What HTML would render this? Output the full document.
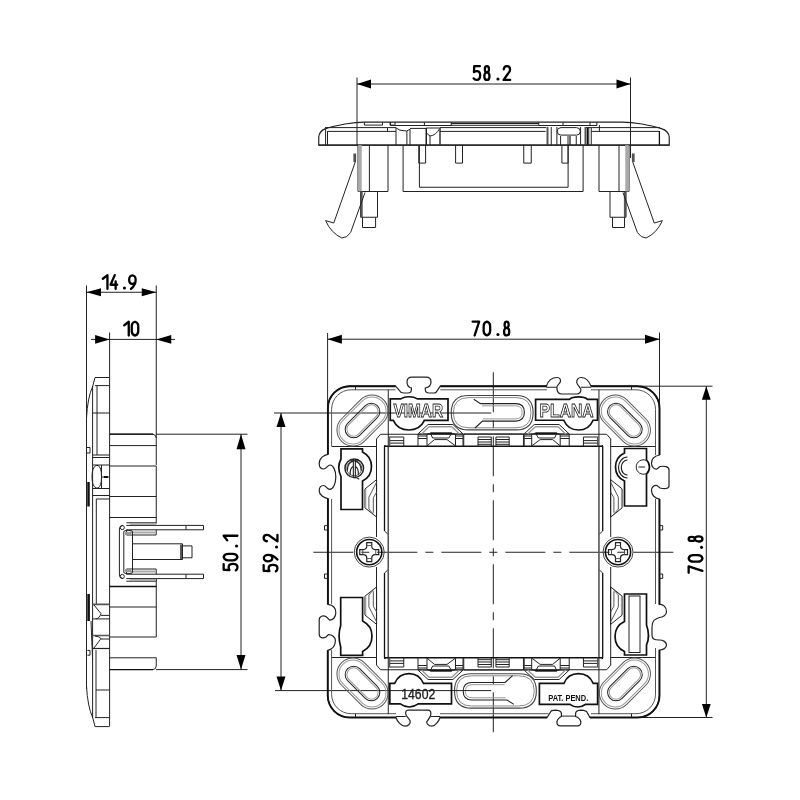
<!DOCTYPE html>
<html><head><meta charset="utf-8"><style>
html,body{margin:0;padding:0;background:#fff;width:800px;height:800px;overflow:hidden}
svg{display:block;will-change:transform}
.l{fill:none;stroke:#222;stroke-width:1}
.b{fill:none;stroke:#111;stroke-width:1.7}
.g{fill:none;stroke:#999;stroke-width:1}
.m{fill:none;stroke:#555;stroke-width:1}
.c{fill:none;stroke:#222;stroke-width:1;stroke-dasharray:40 8 8 8}
.a{fill:#000;stroke:none}
.d{font-family:"Liberation Sans",sans-serif;fill:#000}
</style></head><body>
<svg width="800" height="800" viewBox="0 0 800 800">
<g class="l">
<path d="M357 77.5V146M630.5 77.5V158M357 84H630.5"/>
<path d="M86.5 285.5V418M156.25 285.5V465M86.5 292.25H156.25"/>
<path d="M109.6 332.5V726M91 339.4H175"/>
<path d="M156 434.2H247.5M156 669.6H247.5M241 434.2V669.6"/>
<path d="M274 413H390M275 690.6H390M281 413V690.6"/>
<path d="M327.6 333V408M659.5 332.5V408M327.6 339.2H659.5"/>
<path d="M640 386.2H712.5M640 717.5H712.5M706.3 386.2V717.5"/>
</g>
<polygon class="a" points="357.00,84.00 371.00,79.50 371.00,88.50"/>
<polygon class="a" points="630.50,84.00 616.50,79.50 616.50,88.50"/>
<polygon class="a" points="86.50,292.25 101.00,288.25 101.00,296.25"/>
<polygon class="a" points="156.25,292.25 141.75,288.25 141.75,296.25"/>
<polygon class="a" points="109.60,339.40 95.10,335.10 95.10,343.70"/>
<polygon class="a" points="156.25,339.40 171.25,335.10 171.25,343.70"/>
<polygon class="a" points="241.00,434.20 236.50,449.20 245.50,449.20"/>
<polygon class="a" points="241.00,669.60 236.50,655.10 245.50,655.10"/>
<polygon class="a" points="281.00,413.00 276.50,427.00 285.50,427.00"/>
<polygon class="a" points="281.00,690.60 276.50,676.60 285.50,676.60"/>
<polygon class="a" points="327.60,339.20 341.90,334.70 341.90,343.70"/>
<polygon class="a" points="659.50,339.20 645.00,334.70 645.00,343.70"/>
<polygon class="a" points="706.30,386.20 701.90,399.80 710.70,399.80"/>
<polygon class="a" points="706.30,717.50 701.90,704.10 710.70,704.10"/>
<g transform="translate(473.65 66.15)" fill="none" stroke="#000" stroke-width="2.30" stroke-linecap="round" stroke-linejoin="round"><path transform="translate(0.00 0)" d="M6.2 0H0.6L0.3 5.9Q1.3 5 3.2 5Q6.5 5 6.5 9.2Q6.5 13.8 3.2 13.8Q1 13.8 0 12.2"/><path transform="translate(10.00 0)" d="M3.25 6.2C0.5 6.2 0.5 0 3.25 0C6 0 6 6.2 3.25 6.2C-0.2 6.2 -0.2 13.8 3.25 13.8C6.7 13.8 6.7 6.2 3.25 6.2Z"/><circle cx="24.30" cy="12.9" r="1.55" fill="#000" stroke="none"/><path transform="translate(30.00 0)" d="M0.1 3.3Q0.4 0 3.25 0Q6.4 0 6.4 3.4Q6.4 5.6 4.3 7.6L0 13.8H6.5"/></g>
<g transform="translate(102.85 275.15)" fill="none" stroke="#000" stroke-width="2.30" stroke-linecap="round" stroke-linejoin="round"><path transform="translate(0.00 0)" d="M0 3.6L4.6 0V13.8"/><path transform="translate(7.30 0)" d="M4.6 0L0.4 9.6H7M5.5 6.2V13.8"/><circle cx="21.60" cy="12.9" r="1.55" fill="#000" stroke="none"/><path transform="translate(26.30 0)" d="M6.5 4.6C6.5 -1.3 0 -1.3 0 4.6C0 10 6.5 10 6.5 4.6Q6.5 10 1.8 13.8"/></g>
<g transform="translate(124.15 321.75)" fill="none" stroke="#000" stroke-width="2.30" stroke-linecap="round" stroke-linejoin="round"><path transform="translate(0.00 0)" d="M0 3.6L4.6 0V13.8"/><path transform="translate(7.60 0)" d="M3.25 0Q6.5 0.7 6.5 4.6V9.2Q6.5 13.1 3.25 13.8Q0 13.1 0 9.2V4.6Q0 0.7 3.25 0Z"/></g>
<g transform="translate(223.65 570.35) rotate(-90)" fill="none" stroke="#000" stroke-width="2.30" stroke-linecap="round" stroke-linejoin="round"><path transform="translate(0.00 0)" d="M6.2 0H0.6L0.3 5.9Q1.3 5 3.2 5Q6.5 5 6.5 9.2Q6.5 13.8 3.2 13.8Q1 13.8 0 12.2"/><path transform="translate(10.00 0)" d="M3.25 0Q6.5 0.7 6.5 4.6V9.2Q6.5 13.1 3.25 13.8Q0 13.1 0 9.2V4.6Q0 0.7 3.25 0Z"/><circle cx="24.30" cy="12.9" r="1.55" fill="#000" stroke="none"/><path transform="translate(30.00 0)" d="M0 3.6L4.6 0V13.8"/></g>
<g transform="translate(263.65 571.35) rotate(-90)" fill="none" stroke="#000" stroke-width="2.30" stroke-linecap="round" stroke-linejoin="round"><path transform="translate(0.00 0)" d="M6.2 0H0.6L0.3 5.9Q1.3 5 3.2 5Q6.5 5 6.5 9.2Q6.5 13.8 3.2 13.8Q1 13.8 0 12.2"/><path transform="translate(10.00 0)" d="M6.5 4.6C6.5 -1.3 0 -1.3 0 4.6C0 10 6.5 10 6.5 4.6Q6.5 10 1.8 13.8"/><circle cx="24.30" cy="12.9" r="1.55" fill="#000" stroke="none"/><path transform="translate(30.00 0)" d="M0.1 3.3Q0.4 0 3.25 0Q6.4 0 6.4 3.4Q6.4 5.6 4.3 7.6L0 13.8H6.5"/></g>
<g transform="translate(472.65 321.65)" fill="none" stroke="#000" stroke-width="2.30" stroke-linecap="round" stroke-linejoin="round"><path transform="translate(0.00 0)" d="M0 0H6.5L2 13.8"/><path transform="translate(11.00 0)" d="M3.25 0Q6.5 0.7 6.5 4.6V9.2Q6.5 13.1 3.25 13.8Q0 13.1 0 9.2V4.6Q0 0.7 3.25 0Z"/><circle cx="25.30" cy="12.9" r="1.55" fill="#000" stroke="none"/><path transform="translate(30.75 0)" d="M3.25 6.2C0.5 6.2 0.5 0 3.25 0C6 0 6 6.2 3.25 6.2C-0.2 6.2 -0.2 13.8 3.25 13.8C6.7 13.8 6.7 6.2 3.25 6.2Z"/></g>
<g transform="translate(688.65 572.85) rotate(-90)" fill="none" stroke="#000" stroke-width="2.30" stroke-linecap="round" stroke-linejoin="round"><path transform="translate(0.00 0)" d="M0 0H6.5L2 13.8"/><path transform="translate(11.20 0)" d="M3.25 0Q6.5 0.7 6.5 4.6V9.2Q6.5 13.1 3.25 13.8Q0 13.1 0 9.2V4.6Q0 0.7 3.25 0Z"/><circle cx="25.50" cy="12.9" r="1.55" fill="#000" stroke="none"/><path transform="translate(30.70 0)" d="M3.25 6.2C0.5 6.2 0.5 0 3.25 0C6 0 6 6.2 3.25 6.2C-0.2 6.2 -0.2 13.8 3.25 13.8C6.7 13.8 6.7 6.2 3.25 6.2Z"/></g>
<path class="c" d="M493.3 370V733" style="stroke-dashoffset:61.7"/><path class="c" d="M312 552.25H675" style="stroke-dashoffset:62.7"/>
<path class="l" d="M349.75 386.2 H395.6 L401 392.3 Q402 393 404 393 H408 Q411.4 393 411.4 389.5 V388 Q407 387 407 382 Q407 377.1 412 377.1 H426 Q431 377.1 431 382 Q431 387 425.3 388 V389.5 Q425.3 393 429 393 H434 Q435.5 393 436 392.3 L440.3 386.2 H546.4 C548 381 552 377.5 557.25 377.5 C560 377.5 561 380 560.25 382 C559.5 384 556.9 385 556.9 387.5 C556.9 390 557.5 394 561.75 394 H576.75 C580 394 581 391 580.9 389.5 C580.8 387.5 577 385 576.75 382.5 C576.5 379.5 578.5 377.5 581 377.5 C585 377.5 589 381 591 386.2 H637.5 A22 22 0 0 1 659.5 408.2 V455 C655 456 651.5 459 651.5 463 C651.5 467 654 469.5 657 469 L660 466.5 C664 466 669 466 669 470 V486 C669 489 664 489 660 488 L657 485.5 C654 485 651.5 487 651.5 490.5 C651.5 495 655 498.5 659.4 499 V604.5 C663 604 666.5 607 666.5 611.5 C666.5 615 663 617.5 659.4 617.5 L656 619 C653 620 652 624 652 628 V635 C652 639 654 640 659.4 640 C663 640 666.5 642 666.5 645 C666.5 648 663 650 659.4 650 V695.5 A22 22 0 0 1 637.5 717.5 H589.9 L586.5 711.5 Q584 710.1 580.5 710.1 Q575.6 710.5 575.6 713.5 V716.5 Q579.5 717.5 580.9 721.75 Q580.9 725.9 577.5 725.9 H560.25 Q556.9 725.9 556.9 721.75 Q558.3 717.5 561.4 716.5 V713.5 Q561.4 710.5 556 710.1 Q553 710.1 551.25 710.9 L547.1 717.5 H440 C439 721 435 726.2 432 726.2 C428 726.2 426.5 723 426.8 721.7 C428.5 719 430.9 717 430.9 714 C430.9 712 430 710.1 428 710.1 H408 C406 710.1 405.5 712 405.75 714 C406 717 410.25 719 410.25 721.7 C410.25 724 408 726.2 405 726.2 C401 726.2 397 721 396 717.5 H349.75 A22 22 0 0 1 327.75 695.5 V650.4 C333 649 335.4 645 335.4 640.5 C335.4 637 332 634.5 328.4 634.6 L326 637 C323 638.5 319.2 638 319.2 634 V620 C319.2 616 323 615 326.6 617 L329.7 620.2 C333 620 335.8 617 335.8 612.75 C335.8 608 333 605 328 604.4 V498.6 C324 498 319.2 495 319.2 491 C319.2 487.5 321 485.5 323.5 485.5 C326 485.5 327 489.4 329.7 489.4 C333 489.4 335.8 484 335.8 477 C335.8 470 333 465 330 465 C327.5 465 326.5 469 323.5 469 C321 469 319.2 467 319.2 463.6 C319.2 458 324 455 327.9 454.4 V408.2 A22 22 0 0 1 349.75 386.2 Z" style="stroke-width:1.2;stroke:#222"/>
<path class="b" d="M349.75 386.2H395.6M440.3 386.2H546.9M591 386.2H637.5A22 22 0 0 1 659.5 408.2V455M659.5 499V604.5M659.5 650V695.5A22 22 0 0 1 637.5 717.5H589.9M547.1 717.5H440M396 717.5H349.75A22 22 0 0 1 327.75 695.5V650.4M327.9 604.4V498.6M327.9 454.4V408.2A22 22 0 0 1 349.75 386.2" style="stroke-width:1.9"/>
<path class="m" d="M331.6 409.3V446.25M331.6 499V604M331.6 650V694.2A19.5 19.5 0 0 0 351.1 713.7H396M440 713.7H548.5M591 713.7H636A19.5 19.5 0 0 0 655.5 694.2V648M655.5 604V499M655.5 455V409.3A19.5 19.5 0 0 0 636 389.8H591M546.9 389.8H440.3M395.6 389.8H351.1A19.5 19.5 0 0 0 331.6 409.3"/>
<path class="l" d="M355.5 386.2V389.8M631.5 386.2V389.8M355.5 713.7V717.5M631.5 713.7V717.5"/>
<path class="l" d="M388.25 389.8V446.25M331.6 446.5H376.5"/>
<g transform="translate(987.2 0) scale(-1 1)"><path class="l" d="M388.25 389.8V446.25M331.6 446.5H376.5"/></g>
<g transform="translate(0 1104.0) scale(1 -1)"><path class="l" d="M388.25 389.8V446.25M331.6 446.5H376.5"/></g>
<g transform="translate(987.2 1104.0) scale(-1 -1)"><path class="l" d="M388.25 389.8V446.25M331.6 446.5H376.5"/></g>
<path class="l" d="M376.5 537V439L380.5 434.25H493.6"/>
<g transform="translate(987.2 0) scale(-1 1)"><path class="l" d="M376.5 537V439L380.5 434.25H493.6"/></g>
<g transform="translate(0 1104.0) scale(1 -1)"><path class="l" d="M376.5 537V439L380.5 434.25H493.6"/></g>
<g transform="translate(987.2 1104.0) scale(-1 -1)"><path class="l" d="M376.5 537V439L380.5 434.25H493.6"/></g>
<path class="b" d="M384.5 531V446.5Q384.5 445.3 385.5 445.3" style="stroke-width:1.3"/><path class="l" d="M384.5 531L387.9 534.2"/>
<g transform="translate(987.2 0) scale(-1 1)"><path class="b" d="M384.5 531V446.5Q384.5 445.3 385.5 445.3" style="stroke-width:1.3"/><path class="l" d="M384.5 531L387.9 534.2"/></g>
<g transform="translate(0 1104.0) scale(1 -1)"><path class="b" d="M384.5 531V446.5Q384.5 445.3 385.5 445.3" style="stroke-width:1.3"/><path class="l" d="M384.5 531L387.9 534.2"/></g>
<g transform="translate(987.2 1104.0) scale(-1 -1)"><path class="b" d="M384.5 531V446.5Q384.5 445.3 385.5 445.3" style="stroke-width:1.3"/><path class="l" d="M384.5 531L387.9 534.2"/></g>
<path class="m" d="M388.25 446.25V552" style="stroke-width:1.6"/>
<g transform="translate(987.2 0) scale(-1 1)"><path class="m" d="M388.25 446.25V552" style="stroke-width:1.6"/></g>
<g transform="translate(0 1104.0) scale(1 -1)"><path class="m" d="M388.25 446.25V552" style="stroke-width:1.6"/></g>
<g transform="translate(987.2 1104.0) scale(-1 -1)"><path class="m" d="M388.25 446.25V552" style="stroke-width:1.6"/></g>
<path class="b" d="M384.5 446.25H602.7M384.5 657.75H602.7" style="stroke-width:1.5"/>
<path class="l" d="M388.75 437H403.75V446.25M388.75 440.6H403.75M388.75 443.1H403.75"/><path class="m" d="M389.5 437V446.25" style="stroke-width:1.5"/><path class="l" d="M418 446.25V433.9H463V446.25M418 436H427M418 438.5H427M455.5 436H463M455.5 438.5H463"/><path class="l" d="M427 445.9V434.5L430.4 433.1H451.75L455.5 434.5V445.9M432.6 438H448.75M434.5 439.6H447M427 445.9L434.5 439.6M455.5 445.9L447 439.6M430.4 433.1L432.6 438M451.75 433.1L448.75 438"/><path class="b" d="M430.4 433.3H451.75" style="stroke-width:1.6"/><path class="l" d="M418 433.9L428.1 424.5H452.9L463 433.9"/><path class="g" d="M421.5 433.9L429.2 426.8H451.8L459.5 433.9" style="stroke-width:1.4"/><path class="l" d="M463.75 446.25V433.9H493.6M478 437H491.25V446.25M478 437V446.25M478 439.5H491.25M478 442H491.25M478 444.3H491.25"/>
<g transform="translate(987.2 0) scale(-1 1)"><path class="l" d="M388.75 437H403.75V446.25M388.75 440.6H403.75M388.75 443.1H403.75"/><path class="m" d="M389.5 437V446.25" style="stroke-width:1.5"/><path class="l" d="M418 446.25V433.9H463V446.25M418 436H427M418 438.5H427M455.5 436H463M455.5 438.5H463"/><path class="l" d="M427 445.9V434.5L430.4 433.1H451.75L455.5 434.5V445.9M432.6 438H448.75M434.5 439.6H447M427 445.9L434.5 439.6M455.5 445.9L447 439.6M430.4 433.1L432.6 438M451.75 433.1L448.75 438"/><path class="b" d="M430.4 433.3H451.75" style="stroke-width:1.6"/><path class="l" d="M418 433.9L428.1 424.5H452.9L463 433.9"/><path class="g" d="M421.5 433.9L429.2 426.8H451.8L459.5 433.9" style="stroke-width:1.4"/><path class="l" d="M463.75 446.25V433.9H493.6M478 437H491.25V446.25M478 437V446.25M478 439.5H491.25M478 442H491.25M478 444.3H491.25"/></g>
<g transform="translate(0 1104.0) scale(1 -1)"><path class="l" d="M388.75 437H403.75V446.25M388.75 440.6H403.75M388.75 443.1H403.75"/><path class="m" d="M389.5 437V446.25" style="stroke-width:1.5"/><path class="l" d="M418 446.25V433.9H463V446.25M418 436H427M418 438.5H427M455.5 436H463M455.5 438.5H463"/><path class="l" d="M427 445.9V434.5L430.4 433.1H451.75L455.5 434.5V445.9M432.6 438H448.75M434.5 439.6H447M427 445.9L434.5 439.6M455.5 445.9L447 439.6M430.4 433.1L432.6 438M451.75 433.1L448.75 438"/><path class="b" d="M430.4 433.3H451.75" style="stroke-width:1.6"/><path class="l" d="M418 433.9L428.1 424.5H452.9L463 433.9"/><path class="g" d="M421.5 433.9L429.2 426.8H451.8L459.5 433.9" style="stroke-width:1.4"/><path class="l" d="M463.75 446.25V433.9H493.6M478 437H491.25V446.25M478 437V446.25M478 439.5H491.25M478 442H491.25M478 444.3H491.25"/></g>
<g transform="translate(987.2 1104.0) scale(-1 -1)"><path class="l" d="M388.75 437H403.75V446.25M388.75 440.6H403.75M388.75 443.1H403.75"/><path class="m" d="M389.5 437V446.25" style="stroke-width:1.5"/><path class="l" d="M418 446.25V433.9H463V446.25M418 436H427M418 438.5H427M455.5 436H463M455.5 438.5H463"/><path class="l" d="M427 445.9V434.5L430.4 433.1H451.75L455.5 434.5V445.9M432.6 438H448.75M434.5 439.6H447M427 445.9L434.5 439.6M455.5 445.9L447 439.6M430.4 433.1L432.6 438M451.75 433.1L448.75 438"/><path class="b" d="M430.4 433.3H451.75" style="stroke-width:1.6"/><path class="l" d="M418 433.9L428.1 424.5H452.9L463 433.9"/><path class="g" d="M421.5 433.9L429.2 426.8H451.8L459.5 433.9" style="stroke-width:1.4"/><path class="l" d="M463.75 446.25V433.9H493.6M478 437H491.25V446.25M478 437V446.25M478 439.5H491.25M478 442H491.25M478 444.3H491.25"/></g>
<g transform="translate(362.50 420.50) rotate(-45.0)"><rect class="m" x="-29.5" y="-16" width="59" height="32" rx="16" ry="16"/><rect class="g" x="-27.5" y="-14" width="55" height="28" rx="14" ry="14"/><rect class="l" x="-21" y="-8.5" width="42" height="17" rx="8.5" ry="8.5"/><rect class="g" x="-19.3" y="-6.8" width="38.6" height="13.6" rx="6.8" ry="6.8"/></g>
<g transform="translate(624.90 420.50) rotate(45.0)"><rect class="m" x="-29.5" y="-16" width="59" height="32" rx="16" ry="16"/><rect class="g" x="-27.5" y="-14" width="55" height="28" rx="14" ry="14"/><rect class="l" x="-21" y="-8.5" width="42" height="17" rx="8.5" ry="8.5"/><rect class="g" x="-19.3" y="-6.8" width="38.6" height="13.6" rx="6.8" ry="6.8"/></g>
<g transform="translate(362.50 683.50) rotate(45.0)"><rect class="m" x="-29.5" y="-16" width="59" height="32" rx="16" ry="16"/><rect class="g" x="-27.5" y="-14" width="55" height="28" rx="14" ry="14"/><rect class="l" x="-21" y="-8.5" width="42" height="17" rx="8.5" ry="8.5"/><rect class="g" x="-19.3" y="-6.8" width="38.6" height="13.6" rx="6.8" ry="6.8"/></g>
<g transform="translate(624.90 683.50) rotate(-45.0)"><rect class="m" x="-29.5" y="-16" width="59" height="32" rx="16" ry="16"/><rect class="g" x="-27.5" y="-14" width="55" height="28" rx="14" ry="14"/><rect class="l" x="-21" y="-8.5" width="42" height="17" rx="8.5" ry="8.5"/><rect class="g" x="-19.3" y="-6.8" width="38.6" height="13.6" rx="6.8" ry="6.8"/></g>
<path class="m" d="M468.5 395.5H516Q533.1 395.5 533.1 412.7Q533.1 429.9 516 429.9H468.5Q451.25 429.9 451.25 412.7Q451.25 395.5 468.5 395.5Z" style="stroke:#444;stroke-width:1.1"/><path class="g" d="M469 397.6H516Q531 397.6 531 412.7Q531 427.8 516 427.8H469Q453.35 427.8 453.35 412.7Q453.35 397.6 469 397.6Z" style="stroke:#888"/><path class="l" d="M473.75 399.25L480.6 403.6H515.6Q524.4 403.6 524.4 412.35Q524.4 421.1 515.6 421.1H482.5L475 428" style="stroke-width:1.1"/><path class="g" d="M482 405.8H515.6Q522.2 405.8 522.2 412.35Q522.2 418.9 515.6 418.9H483" style="stroke:#999"/>
<g transform="translate(987.6 1103.6) scale(-1 -1)"><path class="m" d="M468.5 395.5H516Q533.1 395.5 533.1 412.7Q533.1 429.9 516 429.9H468.5Q451.25 429.9 451.25 412.7Q451.25 395.5 468.5 395.5Z" style="stroke:#444;stroke-width:1.1"/><path class="g" d="M469 397.6H516Q531 397.6 531 412.7Q531 427.8 516 427.8H469Q453.35 427.8 453.35 412.7Q453.35 397.6 469 397.6Z" style="stroke:#888"/><path class="l" d="M473.75 399.25L480.6 403.6H515.6Q524.4 403.6 524.4 412.35Q524.4 421.1 515.6 421.1H482.5L475 428" style="stroke-width:1.1"/><path class="g" d="M482 405.8H515.6Q522.2 405.8 522.2 412.35Q522.2 418.9 515.6 418.9H483" style="stroke:#999"/></g>
<path class="l" d="M390 413H491.25M390 690.6H491.25"/>
<path class="b" d="M390.25 398.9H400.75Q404 396.75 409 396.75Q414 396.75 417.4 398.9H448V420.4H424.4Q420 430 408.8 430Q397.6 430 393.3 420.4H390.25Z"/>
<path class="b" d="M535.6 399.4H569.4Q572 396.9 578.5 396.9Q585 396.9 587.5 399.4H597.5V420.25H593.1Q589 430 578.5 430Q568 430 563.75 420.25H535.6Z"/>
<path class="b" d="M389.8 683.3H394.6Q399 673.7 409 673.7Q419 673.7 423.5 683.3H451.5V703.9H418.2Q414 707 409.2 707Q404.5 707 400.3 703.9H389.8Z"/>
<path class="b" d="M539.4 683.3H563.9Q568 673.7 578.5 673.7Q589 673.7 593.2 683.3H597.6V704.3H585.7Q582 707 577.8 707Q573.5 707 570 704.3H539.4Z"/>
<text x="418.25" y="417.3" text-anchor="middle" font-family="Liberation Sans" font-weight="bold" font-size="18.3" fill="#fff" stroke="#222" stroke-width="0.85" textLength="49.5" lengthAdjust="spacingAndGlyphs">VIMAR</text>
<text x="566.6" y="417.25" text-anchor="middle" font-family="Liberation Sans" font-weight="bold" font-size="18" fill="#fff" stroke="#222" stroke-width="0.85" textLength="54" lengthAdjust="spacingAndGlyphs">PLANA</text>
<text x="418.25" y="699" text-anchor="middle" font-family="Liberation Sans" font-size="14" fill="#222" stroke="#222" stroke-width="0.35" textLength="34" lengthAdjust="spacingAndGlyphs">14602</text>
<text x="568.25" y="700.8" text-anchor="middle" font-family="Liberation Sans" font-weight="bold" font-size="9" fill="#111" textLength="40" lengthAdjust="spacingAndGlyphs">PAT. PEND.</text>
<path class="b" d="M341 448.8H362.5V452A16.2 16.2 0 0 1 362.5 481V509.5H341V476.5Q336.5 467 341 459Z"/>
<g transform="translate(354.25 468.25)"><circle class="l" r="9.3" style="stroke-width:1.5;stroke:#222"/><circle class="m" r="7.5"/><path class="l" d="M-0.9 -8.5V8.5M1.1 -8.5V8.5M-3.5 -7.5H4M-1 -7Q-6.5 -6 -7 2.5M1 -7Q6.5 -6 7 2.5M-1 -2Q-4.5 0 -4 6.5M1 -2Q4.5 0 4 6.5M-1 9.5H2.5L5 11" style="stroke-width:1.1"/></g>
<path class="b" d="M624.5 448.5H646.5V460A9.7 9.7 0 0 1 646.5 474V506H624.5V481A15.4 15.4 0 0 1 624.5 453Z"/>
<path class="l" d="M627.5 457A9 10.5 0 0 0 627.5 478M627.5 460A6.2 7.5 0 0 0 627.5 475" style="stroke-width:1.2"/>
<path class="l" d="M646.5 460.5A7.2 7.2 0 1 0 646.5 473.5M638.5 467H645"/>
<path class="b" d="M340.7 597.5H362.6V621.1A17 17 0 0 1 362.6 651.5V655.4H340.7V647Q337.4 635.7 340.7 625.6Z"/>
<path class="b" d="M624.5 594H646.5V625Q650.5 636 646.5 645V655H624.5V651.5A16.6 16.6 0 0 1 624.5 621.5Z"/>
<rect class="l" x="629" y="596" width="11" height="56.5"/>
<path class="l" d="M364.9 489L376.6 479.6V517.1L364.9 507.75Z"/><path class="g" d="M365.4 489V507.75" style="stroke-width:1.8"/><path class="m" d="M376.6 482.1L368.9 497.1V509L374.25 515.25M376.6 492.1L373.3 497.75V512.75"/>
<g transform="translate(987.2 0) scale(-1 1)"><path class="l" d="M364.9 489L376.6 479.6V517.1L364.9 507.75Z"/><path class="g" d="M365.4 489V507.75" style="stroke-width:1.8"/><path class="m" d="M376.6 482.1L368.9 497.1V509L374.25 515.25M376.6 492.1L373.3 497.75V512.75"/></g>
<g transform="translate(0 1104) scale(1 -1)"><path class="l" d="M364.9 489L376.6 479.6V517.1L364.9 507.75Z"/><path class="g" d="M365.4 489V507.75" style="stroke-width:1.8"/><path class="m" d="M376.6 482.1L368.9 497.1V509L374.25 515.25M376.6 492.1L373.3 497.75V512.75"/></g>
<g transform="translate(987.2 1104) scale(-1 -1)"><path class="l" d="M364.9 489L376.6 479.6V517.1L364.9 507.75Z"/><path class="g" d="M365.4 489V507.75" style="stroke-width:1.8"/><path class="m" d="M376.6 482.1L368.9 497.1V509L374.25 515.25M376.6 492.1L373.3 497.75V512.75"/></g>
<path class="l" d="M327.75 525.6H324.5V530H327.75"/>
<g transform="translate(987.2 0) scale(-1 1)"><path class="l" d="M327.75 525.6H324.5V530H327.75"/></g>
<g transform="translate(0 1104.0) scale(1 -1)"><path class="l" d="M327.75 525.6H324.5V530H327.75"/></g>
<g transform="translate(987.2 1104.0) scale(-1 -1)"><path class="l" d="M327.75 525.6H324.5V530H327.75"/></g>
<path class="l" d="M561.4 716.1H575.6M546.4 387.25H556.9M580.9 387.25H591M396 716.5H405.75M430.9 716.5H440"/>
<g transform="translate(369.25 552.10)"><circle class="l" r="15" style="stroke:#444"/><circle class="b" r="12.6" style="stroke-width:1.6"/><path class="l" d="M-2.5 -9.5H2.5V-6Q2.5 -2.5 6 -2.5H9.5V2.5H6Q2.5 2.5 2.5 6V9.5H-2.5V6Q-2.5 2.5 -6 2.5H-9.5V-2.5H-6Q-2.5 -2.5 -2.5 -6Z" style="stroke-width:1.2"/><path class="m" d="M-2.5 -6.5H2.5M-2.5 6.5H2.5M-6.5 -2.5V2.5M6.5 -2.5V2.5"/></g>
<g transform="translate(618.00 552.10)"><circle class="l" r="15" style="stroke:#444"/><circle class="b" r="12.6" style="stroke-width:1.6"/><path class="l" d="M-2.5 -9.5H2.5V-6Q2.5 -2.5 6 -2.5H9.5V2.5H6Q2.5 2.5 2.5 6V9.5H-2.5V6Q-2.5 2.5 -6 2.5H-9.5V-2.5H-6Q-2.5 -2.5 -2.5 -6Z" style="stroke-width:1.2"/><path class="m" d="M-2.5 -6.5H2.5M-2.5 6.5H2.5M-6.5 -2.5V2.5M6.5 -2.5V2.5"/></g>
<path class="l" d="M318.75 145.1V137Q319.5 131 325 128.9Q333 126.2 345 124Q356 122.4 365 122.2H622Q631 122.4 642 124Q654 126.2 662 128.9Q668.5 131 669.25 137V145.1Z" style="stroke-width:1.2"/>
<path class="l" d="M325 127.6H396M327.5 131.4H396M325.6 129V145M327.5 131V145M396 127.6V145M387.5 128V131.4M364.4 122.2V125.1H382.5V122.2M390 122.2V125.1H394.4"/>
<path class="l" d="M390.6 122.2V125.5H451.25V122.2M395 122.2V125.5M424.4 122.2V125.5M451 123.5H538.75M451 125.3H538.75"/>
<path class="l" d="M396.25 128L400 130.2L406.5 131L410 129.3V145M406.9 131V145M410 128.4H426.25"/>
<path class="b" d="M426.25 128V145" style="stroke-width:1.4"/><path class="l" d="M426.25 128H440Q436 135.5 430 136L426.25 133M430 136V145"/><path class="m" d="M440 128V145" style="stroke-width:1.8"/>
<path class="l" d="M440 131.4H545.6M440 127.6H546"/>
<path class="l" d="M538.75 122.2V125.5H596.9V122.2M563 122.2V125.5M590 122.2V125.5"/>
<path class="m" d="M547.5 127V145M585.5 127V145" style="stroke-width:2"/>
<path class="l" d="M551.25 127V145M556.9 127V145M580.6 127V145M588.75 127V145"/>
<path class="l" d="M561 127.6H576.5A3.75 3.75 0 0 1 576.5 135.1H561A3.75 3.75 0 0 1 561 127.6Z"/>
<path class="l" d="M560.6 136V145M568 136V145M576.25 136V145"/><path class="b" d="M570 136V145" style="stroke-width:1.2"/>
<path class="l" d="M591.25 131.4H659.4M586 127.6H660M591.25 128V145M599.4 125V131.4"/>
<path class="b" d="M587.5 128V145M659.4 131V145" style="stroke-width:1.3"/>
<path class="l" d="M318.75 145.1H669.25" style="stroke-width:1.3"/>
<path class="l" d="M358 145.1V191.5H388V145.1M369.4 145.1V191.5"/>
<path class="g" d="M360 145.1V191.5" style="stroke-width:3.5;stroke:#aaa"/>
<path class="l" d="M599 145.1V191.5H629V145.1M619 145.1V191.5"/>
<path class="g" d="M627 145.1V191.5" style="stroke-width:3.5;stroke:#aaa"/>
<path class="l" d="M360.6 191.5V217.25H377.5V191.5M362.5 217.25V227.5H375.6V217.25"/>
<path class="m" d="M361.6 192V217" style="stroke-width:2.2"/>
<path class="l" d="M610 191.5V217.25H626V191.5M612.5 217.25V227.5H624.5V217.25"/>
<path class="m" d="M625 192V217" style="stroke-width:2.2"/>
<path class="l" d="M355.6 153.75V161L333.75 223L325.6 220.6Q331 233 341.9 238Q347 238 350.6 232.5L365 192.5"/>
<path class="m" d="M354.6 153.5V162" style="stroke-width:2.5"/>
<path class="l" d="M632.4 153.75V161L654.25 223L662.4 220.6Q657 233 646.1 238Q641 238 637.4 232.5L623 192.5"/>
<path class="m" d="M633.4 153.5V162" style="stroke-width:2.5"/>
<path class="l" d="M403.1 145V191.5H583.1V145M419.4 145V187.25H568.1V145"/>
<path class="l" d="M418.75 145V163.1H425.6V145M455.6 145V163.1H462.5V145M523.75 145V163.1H531.25V145M561.9 145V163.1H568.1V145"/>
<path class="l" d="M109.6 377.5H95L92.8 386Q87.5 398 86.5 418M95 385.6H109.6M92.6 386V718M97 386V455M92.6 413H109.6" /><path class="l" d="M92.6 455H109.6M92.6 457.5H109.6M92.6 465H109.6M101.5 465V488.5M92.6 488.5H109.6M92.6 495.5H109.6M96.3 499H109.6M96.3 499V604.4"/><path class="b" d="M88.5 482V506.5" style="stroke-width:2.5"/><path class="l" d="M87 447.5H90V453H87"/>
<path class="l" d="M109.6 726.6H95L92.8 718Q87.5 706 86.5 686M92.6 648.4H109.6M96 650V717.6M96 690H109.6M95 717.6H109.6"/>
<path class="b" d="M88.6 594V621" style="stroke-width:2.6"/><path class="l" d="M87.4 650.4H90V655.2H87.4M91 621L92.6 660"/>
<path class="l" d="M86.5 415V689"/>
<path class="l" d="M96 465.5H98Q101.5 467 101.5 476.75Q101.5 486.5 98 488H96Q92 486 92 476.75Q92 467.5 96 465.5Z"/>
<path class="l" d="M101.5 477H109.6"/><path class="b" d="M104 477H108" style="stroke-width:2"/>
<path class="l" d="M109.6 434.2H153Q156.25 435 156.25 438M109.6 445.6H156.25M109.6 466H156.25V523.5M109.6 496.5H156.25M109.6 517.5H156.25M156.2 578.6V581"/>
<path class="l" d="M156.25 579.5V637M109.6 586.5H156.25M109.6 607H156.25M109.6 637H156.25M109.6 657.8H156.25V666Q156.25 669 153 669.6"/>
<path class="b" d="M109.6 669.6H153M109.6 586.5H156.25M109.6 434.2H153" style="stroke-width:1.3"/>
<path class="l" d="M126.4 525.4H203.5V529.8H126.4M186 525.4V529.8"/><path class="l" d="M126.4 529.8V535H156.2V529.8M126.4 522.8H156.2"/><path class="g" d="M130 524.1H156M130 532.5H156" style="stroke-width:2;stroke:#aaa"/><path class="l" d="M119.4 552V529Q119.4 525.4 123 525.4"/><circle class="l" cx="122.3" cy="527.6" r="2"/><path class="g" d="M125 533.5H131.5" style="stroke-width:3;stroke:#999"/>
<g transform="translate(0 1104) scale(1 -1)"><path class="l" d="M126.4 525.4H203.5V529.8H126.4M186 525.4V529.8"/><path class="l" d="M126.4 529.8V535H156.2V529.8M126.4 522.8H156.2"/><path class="g" d="M130 524.1H156M130 532.5H156" style="stroke-width:2;stroke:#aaa"/><path class="l" d="M119.4 552V529Q119.4 525.4 123 525.4"/><circle class="l" cx="122.3" cy="527.6" r="2"/><path class="g" d="M125 533.5H131.5" style="stroke-width:3;stroke:#999"/></g>
<rect class="l" x="123.8" y="530.6" width="8.7" height="42.8" rx="1.5"/>
<path class="l" d="M132.5 543.8H182.5V559.5H132.5M182.5 545.9H192V557.8H182.5"/><path class="m" d="M181 544.5V559" style="stroke-width:2"/>
<path class="m" d="M92.6 604.4H109.3M92.6 635.5H109.3" style="stroke-width:1.6"/>
<path class="l" d="M92.6 618.9H109.3M101 615.4H109.3M94 605L101 613.6Q99.5 618.5 95.75 618.9M92.6 648.6H109.3M101 639H109.3M95 636Q99.5 636.5 101 638.5L94 648"/>
</svg></body></html>
